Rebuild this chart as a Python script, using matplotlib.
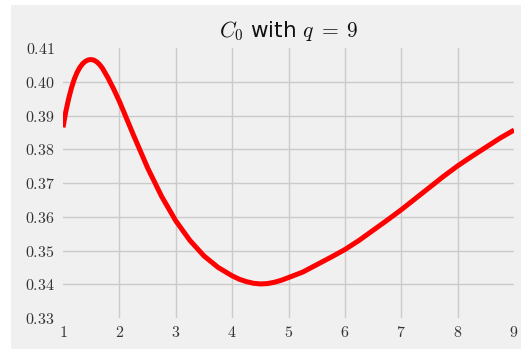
import matplotlib
matplotlib.use("Agg")
import matplotlib.pyplot as plt
from matplotlib.patches import Rectangle
from matplotlib.ticker import FuncFormatter

# C_0 values, q = 9
q_values = [1.00, 1.05, 1.10, 1.15, 1.20, 1.25, 1.30, 1.35, 1.40, 1.45,
            1.50, 1.55, 1.60, 1.65, 1.70, 1.80, 1.90, 2.00, 2.10, 2.25,
            2.50, 2.75, 3.00, 3.25, 3.50, 3.75, 4.00, 4.125, 4.25, 4.375,
            4.50, 4.625, 4.75, 4.875, 5.00, 5.25, 5.50, 5.75, 6.00, 6.25,
            6.50, 6.75, 7.00, 7.25, 7.50, 7.75, 8.00, 8.25, 8.50, 8.75, 9.00]
c0_values = [0.3865, 0.3912, 0.3950, 0.3982, 0.4008, 0.4028, 0.4043, 0.4054, 0.4061, 0.4065,
             0.4066, 0.4064, 0.4059, 0.4051, 0.4040, 0.4011, 0.3978, 0.3942, 0.3902, 0.3842,
             0.3745, 0.3660, 0.3588, 0.3530, 0.3484, 0.3450, 0.3425, 0.3415, 0.3408, 0.3403,
             0.3401, 0.3402, 0.3406, 0.3412, 0.3420, 0.3436, 0.3458, 0.3480, 0.3503, 0.3530,
             0.3560, 0.3590, 0.3621, 0.3654, 0.3687, 0.3720, 0.3751, 0.3779, 0.3806, 0.3833, 0.3857]

x_ticks = [1, 2, 3, 4, 5, 6, 7, 8, 9]
y_ticks = [0.33, 0.34, 0.35, 0.36, 0.37, 0.38, 0.39, 0.40, 0.41]

bg = "#f0f0f0"
plt.rcParams["mathtext.fontset"] = "cm"

fig = plt.figure(figsize=(5.30, 3.56), dpi=100, facecolor="white")
panel = Rectangle((0.0208, 0.0197), 0.962, 0.966, transform=fig.transFigure,
                  facecolor=bg, edgecolor="none", zorder=-10)
fig.add_artist(panel)

ax = fig.add_axes([0.1189, 0.1067, 0.8511, 0.7583])
ax.set_zorder(1)
ax.set_facecolor(bg)
for side in ax.spines.values():
    side.set_visible(False)

ax.plot(q_values, c0_values, color="red", linewidth=3.6, solid_capstyle="butt",
        solid_joinstyle="round", zorder=3)

ax.set_xlim(1, 9)
ax.set_ylim(0.33, 0.41)
ax.set_xticks(x_ticks)
ax.set_yticks(y_ticks)
ax.xaxis.set_major_formatter(FuncFormatter(lambda v, _: r"$%d$" % v))
ax.yaxis.set_major_formatter(FuncFormatter(lambda v, _: r"$%.2f$" % v))
ax.tick_params(length=0, labelsize=11.5, colors="#333333")
ax.tick_params(axis="x", pad=5)
ax.tick_params(axis="y", pad=6)

ax.grid(True, color="#cbcbcb", linewidth=1.0, zorder=0)
ax.set_axisbelow(True)
# edge gridlines are not shown in the reference
for lines in (ax.xaxis.get_gridlines(), ax.yaxis.get_gridlines()):
    lines[0].set_visible(False)
    lines[-1].set_visible(False)

ax.set_title(r"$C_0$ with $q\;=\;9$", fontsize=15.5, color="#111111", pad=8)

fig.savefig("out.png", dpi=100, facecolor="white")
